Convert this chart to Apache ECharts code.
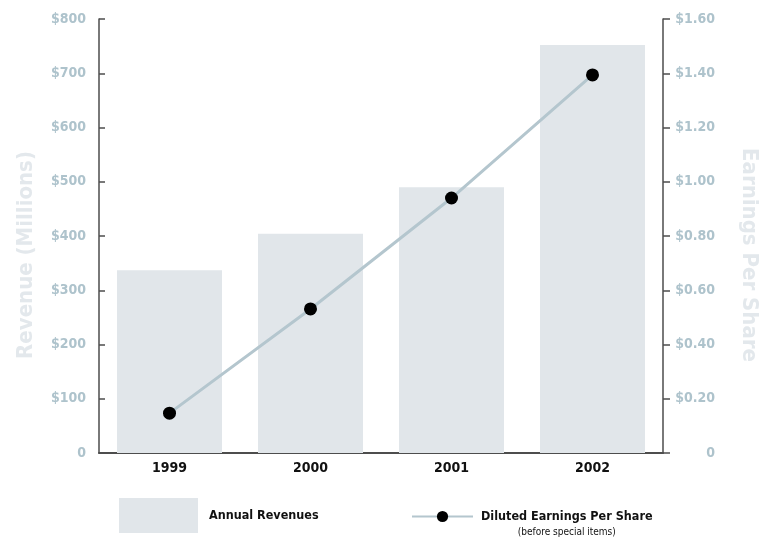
<!DOCTYPE html>
<html>
<head>
<meta charset="utf-8">
<script src="https://cdn.jsdelivr.net/npm/echarts@6/dist/echarts.min.js"></script>
<style>
	html, body { margin:0; padding:0; background:#fff; }
	#main { width:774px; height:537px; }
</style>
</head>
<body>
<div id="main"></div>
<script type="text/javascript">

	var years = ['1999', '2000', '2001', '2002'];
	var revenues = [337, 404, 490, 752];      // $ millions
	var eps = [0.147, 0.531, 0.94, 1.394];     // diluted EPS, before special items

	var font = "'DejaVu Sans Condensed', 'Liberation Sans', Arial, sans-serif";
	var tickColor = '#aec3cc';
	var axisColor = '#4d4d4d';

	var chart = echarts.init(document.getElementById('main'));
	chart.setOption({
		animation: false,
		grid: { left: 99, right: 111, top: 19, bottom: 84 },
		legend: [
			{
				data: [{ name: 'Annual Revenues', icon: 'rect' }],
				selectedMode: false,
				padding: 0,
				left: 119, top: 498,
				itemWidth: 79, itemHeight: 35,
				textStyle: { fontFamily: font, fontWeight: 'bold', fontSize: 12.5, color: '#111', padding: [3, 0, 0, 6] }
			},
			{
				data: ['Diluted Earnings Per Share'],
				selectedMode: false,
				padding: 0,
				left: 411, top: 510,
				itemWidth: 61, itemHeight: 14,
				formatter: function (name) { return '{a|' + name + '}\n{b|(before special items)}'; },
				textStyle: {
					fontFamily: font, padding: [14, 0, 0, 3],
					rich: {
						a: { fontFamily: font, fontWeight: 'bold', fontSize: 12.5, color: '#111', lineHeight: 18 },
						b: { fontFamily: font, fontSize: 10, color: '#111', align: 'center', lineHeight: 14 }
					}
				}
			}
		],
		xAxis: {
			type: 'category',
			data: years,
			axisLine: { lineStyle: { color: axisColor, width: 2 } },
			axisTick: { show: false },
			axisLabel: { fontFamily: font, fontWeight: 'bold', fontSize: 14, color: '#111', margin: 8 }
		},
		yAxis: [
			{
				type: 'value', min: 0, max: 800, interval: 100,
				name: 'Revenue (Millions)', nameLocation: 'middle', nameGap: 62, nameRotate: 90,
				nameTextStyle: { fontFamily: font, fontWeight: 'bold', fontSize: 22, color: '#e3e8ec', padding: [0, 38, 0, 0] },
				axisLine: { show: true, lineStyle: { color: axisColor, width: 1.5 } },
				axisTick: { show: true, inside: true, length: 6, lineStyle: { color: axisColor, width: 1.5 } },
				splitLine: { show: false },
				axisLabel: {
					fontFamily: font, fontWeight: 'bold', fontSize: 14, color: tickColor, margin: 13,
					formatter: function (v) { return v === 0 ? '0' : '$' + v; }
				}
			},
			{
				type: 'value', min: 0, max: 1.6, interval: 0.2,
				name: 'Earnings Per Share', nameLocation: 'middle', nameGap: 75, nameRotate: -90,
				nameTextStyle: { fontFamily: font, fontWeight: 'bold', fontSize: 22, color: '#e3e8ec', padding: [0, 0, 0, 38] },
				axisLine: { show: true, lineStyle: { color: axisColor, width: 1.5 } },
				axisTick: { show: true, length: 7, lineStyle: { color: axisColor, width: 1.5 } },
				splitLine: { show: false },
				axisLabel: {
					fontFamily: font, fontWeight: 'bold', fontSize: 14, color: tickColor, margin: 52, align: 'right',
					formatter: function (v) { return v === 0 ? '0' : '$' + v.toFixed(2); }
				}
			}
		],
		series: [
			{
				name: 'Annual Revenues',
				type: 'bar',
				yAxisIndex: 0,
				barWidth: 105,
				itemStyle: { color: '#e1e6ea' },
				data: revenues
			},
			{
				name: 'Diluted Earnings Per Share',
				type: 'line',
				yAxisIndex: 1,
				symbol: 'circle',
				symbolSize: 13,
				lineStyle: { color: '#b4c6ce', width: 3 },
				itemStyle: { color: '#000' },
				data: eps
			}
		]
	});

</script>
</body>
</html>
